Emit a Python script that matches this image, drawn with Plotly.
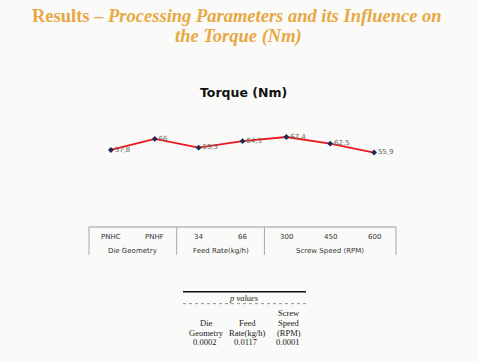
import plotly.graph_objects as go

# ---- data ----
categories = ["PNHC", "PNHF", "34", "66", "300", "450", "600"]
groups = ["Die Geometry", "Feed Rate(kg/h)", "Screw Speed (RPM)"]
group_sizes = [2, 2, 3]
torque = [57.8, 66, 59.5, 64.3, 67.4, 62.5, 55.9]
pv_headers = [["", "Die", "Geometry"], ["", "Feed", "Rate(kg/h)"], ["Screw", "Speed", "(RPM)"]]
p_values = ["0.0002", "0.0117", "0.0001"]

W, H = 477, 362
L, R, T, B = 89, 396, 119.5, 228  # plot area in px


def px_x(x):
    return (x - L) / (R - L)


def px_y(y):
    return (B - y) / (B - T)


labels = [f"{v:g}".replace(".", ",") for v in torque]
xs = list(range(len(categories)))

fig = go.Figure()
fig.add_trace(go.Scatter(
    x=xs, y=torque, mode="lines+markers+text",
    line=dict(color="#E8191C", width=1.8),
    marker=dict(symbol="diamond", size=4.5, color="#1C2B5A"),
    text=labels, textposition="middle right",
    textfont=dict(family="DejaVu Sans", size=7, color="#666666"),
    cliponaxis=False, hoverinfo="skip", showlegend=False,
))

serif = "Liberation Serif"
sans = "DejaVu Sans"
gold = "#E8A843"
ann = []


def add_text(x, y, text, font, xref="paper"):
    ann.append(dict(x=x, y=y, xref=xref, yref="paper", text=text, showarrow=False,
                    xanchor="center", yanchor="middle", font=font))


add_text(px_x(237), px_y(15),
         "<b>Results – <i>Processing Parameters and its Influence on</i></b>",
         dict(family=serif, size=18.5, color=gold))
add_text(px_x(238), px_y(36), "<b><i>the Torque (Nm)</i></b>",
         dict(family=serif, size=18.5, color=gold))
add_text(px_x(243), px_y(92), "<b>Torque (Nm)</b>",
         dict(family=sans, size=12.5, color="#111111"))

# category labels
for i, c in enumerate(categories):
    add_text(i, px_y(237), c, dict(family=sans, size=7, color="#333333"), xref="x")

shapes = []
n = len(categories)
shapes.append(dict(type="line", xref="paper", yref="paper", x0=0, x1=1,
                   y0=px_y(227), y1=px_y(227), line=dict(color="#9A9A9A", width=1.2)))
start = 0
bounds = [0]
for g, s in zip(groups, group_sizes):
    mid = start + (s - 1) / 2
    add_text(mid, px_y(251), g, dict(family=sans, size=7, color="#333333"), xref="x")
    start += s
    bounds.append(start)
for b in bounds:
    xp = b / n
    shapes.append(dict(type="line", xref="paper", yref="paper", x0=xp, x1=xp,
                       y0=px_y(227), y1=px_y(255), line=dict(color="#A8A8A8", width=1)))

# p-values table
shapes.append(dict(type="line", xref="paper", yref="paper", x0=px_x(183), x1=px_x(306),
                   y0=px_y(292), y1=px_y(292), line=dict(color="#111111", width=1.4)))
shapes.append(dict(type="line", xref="paper", yref="paper", x0=px_x(183), x1=px_x(306),
                   y0=px_y(304), y1=px_y(304), line=dict(color="#777777", width=0.8, dash="dot")))
tfont = dict(family=serif, size=8.5, color="#222222")
add_text(px_x(244), px_y(298), "<i>p values</i>", tfont)
col_x = [206, 247, 289]
row_y = [313, 323, 333]
for cx, hdr, pv in zip(col_x, pv_headers, p_values):
    for ry, t in zip(row_y, hdr):
        if t:
            add_text(px_x(cx), px_y(ry), t, tfont)
    add_text(px_x(cx - 2), px_y(343), pv, tfont)

fig.update_layout(
    width=W, height=H,
    margin=dict(l=L, r=W - R, t=T, b=H - B, pad=0),
    paper_bgcolor="#FAFAF8", plot_bgcolor="rgba(0,0,0,0)",
    xaxis=dict(range=[-0.5, n - 0.5], visible=False, fixedrange=True),
    yaxis=dict(range=[0, 80], visible=False, fixedrange=True),
    annotations=ann, shapes=shapes, showlegend=False,
)

fig.write_html("out.html", config={"displayModeBar": False},
               post_script="document.body.style.margin='0';")
